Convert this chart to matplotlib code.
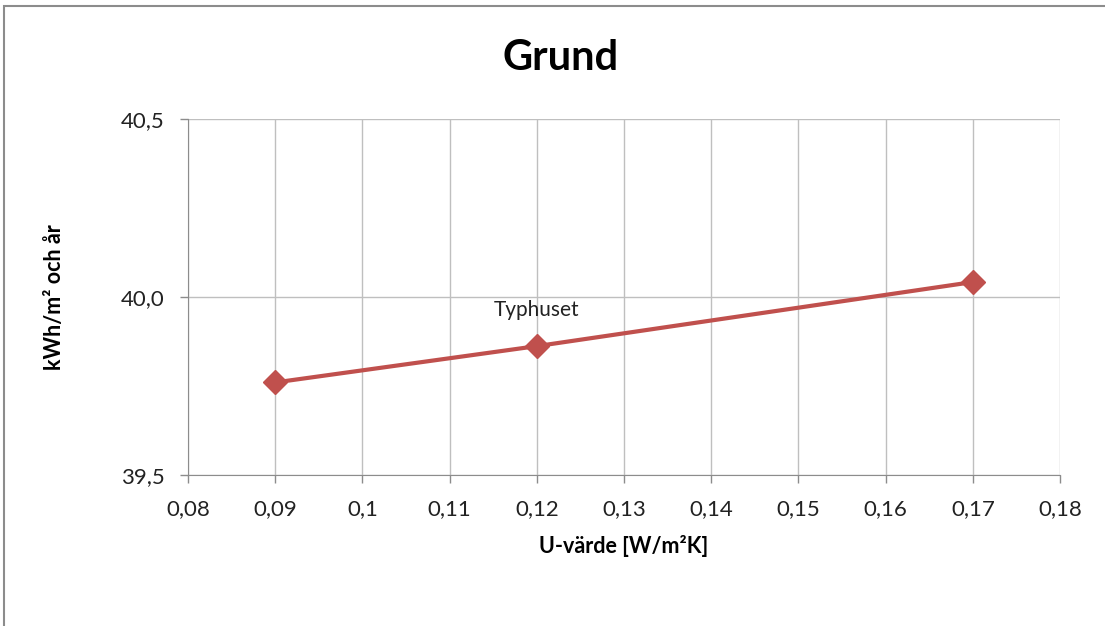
import matplotlib.pyplot as plt
from matplotlib.patches import Rectangle
from matplotlib.ticker import FuncFormatter, MultipleLocator

u_values = [0.09, 0.12, 0.17]
energy = [39.76, 39.862, 40.042]
point_label = "Typhuset"
label_index = 1

plt.rcParams['font.family'] = ['Lato', 'DejaVu Sans']

fig = plt.figure(figsize=(11.05, 6.26), dpi=100)
ax = fig.add_axes((0.1701, 0.2412, 0.7892, 0.5687))

# chart area border (clipped on right/bottom like the screenshot)
fig.patches.append(Rectangle((0.004, -0.05), 1.2, 1.04, transform=fig.transFigure,
                             fill=False, edgecolor='#8c8c8c', linewidth=1.5))

red = '#C0504D'
ax.plot(u_values, energy, color=red, linewidth=3, marker='D', markersize=12, zorder=3)
ax.annotate(point_label, (u_values[label_index], energy[label_index]),
            xytext=(0, 26), textcoords='offset points', ha='center', va='center',
            fontsize=15, color='#222222')

ax.set_xlim(0.08, 0.18)
ax.set_ylim(39.5, 40.5)
ax.xaxis.set_major_locator(MultipleLocator(0.01))
ax.yaxis.set_major_locator(MultipleLocator(0.5))

def comma_x(v, pos):
    s = ('%.2f' % v).rstrip('0')
    return s.replace('.', ',')

ax.xaxis.set_major_formatter(FuncFormatter(comma_x))
ax.yaxis.set_major_formatter(FuncFormatter(lambda v, p: ('%.1f' % v).replace('.', ',')))

ax.grid(True, color='#bfbfbf', linewidth=1)
ax.set_axisbelow(True)
for s in ['top', 'right']:
    ax.spines[s].set_visible(False)
for s in ['left', 'bottom']:
    ax.spines[s].set_color('#8c8c8c')
ax.tick_params(axis='both', colors='#8c8c8c', labelcolor='#222222', labelsize=16,
               length=6, width=1)
ax.tick_params(axis='x', pad=11)
ax.tick_params(axis='y', pad=11)

fig.text(0.507, 0.907, 'Grund', fontsize=30, fontweight='bold', ha='center', va='center')
ax.set_xlabel('U-värde [W/m²K]', fontsize=15.5, fontweight='bold', labelpad=12)
ax.set_ylabel('kWh/m² och år', fontsize=15.5, fontweight='bold', labelpad=40)

fig.savefig('out.png', dpi=100)
